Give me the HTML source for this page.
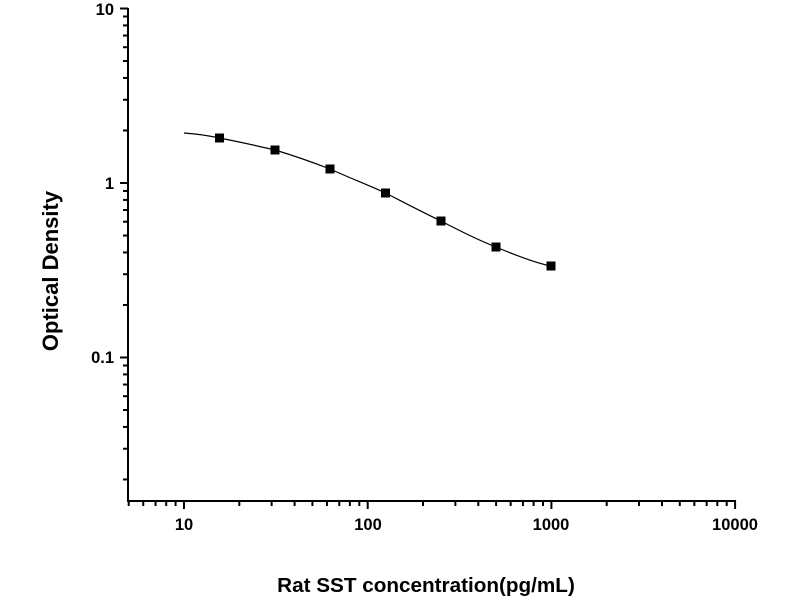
<!DOCTYPE html>
<html><head><meta charset="utf-8"><style>
html,body{margin:0;padding:0;background:#fff;width:800px;height:600px;overflow:hidden}
</style></head><body>
<svg id="s" width="800" height="600" xmlns="http://www.w3.org/2000/svg" font-family="Liberation Sans, Arial, sans-serif">
<rect width="800" height="600" fill="#fff"/>
<g id="ax" stroke="#000" stroke-width="2" fill="none">
<line x1="128" y1="8" x2="128" y2="502"/>
<line x1="127" y1="501" x2="736" y2="501"/>
</g>
<g font-size="16.5" font-weight="bold" text-anchor="end" fill="#000">
<text x="114" y="15">10</text>
<text x="114" y="189">1</text>
<text x="114" y="363">0.1</text>
</g>
<g font-size="16.5" font-weight="bold" text-anchor="middle" fill="#000">
<text x="184" y="530">10</text>
<text x="368" y="530">100</text>
<text x="551" y="530">1000</text>
<text x="735" y="530">10000</text>
</g>
<text x="426" y="592" font-size="20.7" font-weight="bold" text-anchor="middle">Rat SST concentration(pg/mL)</text>
<text transform="translate(58,271) rotate(-90)" font-size="22" font-weight="bold" text-anchor="middle">Optical Density</text>
<path d="M184,133 C200,134 210,136 219.5,138 C240,142 258,146 275,150 C295,156 312,162 330,169 C350,178 368,185 385.5,193 C405,203 422,212 441,221 C460,231 478,240 496,247 C515,255 535,263 551,266" stroke="#000" stroke-width="1.2" fill="none"/>
<g fill="#000">
<rect x="215" y="133.5" width="9" height="9"/>
<rect x="270.5" y="145.5" width="9" height="9"/>
<rect x="325.5" y="164.5" width="9" height="9"/>
<rect x="381" y="188.5" width="9" height="9"/>
<rect x="436.5" y="216.5" width="9" height="9"/>
<rect x="491.5" y="242.5" width="9" height="9"/>
<rect x="546.5" y="261.5" width="9" height="9"/>
</g>
</svg>
<script>
var g=document.getElementById('ax'),t='';
function L(a,b,c,d){t+='<line x1="'+a+'" y1="'+b+'" x2="'+c+'" y2="'+d+'"/>';}
for(var e=-2;e<=1;e++){for(var m=1;m<10;m++){var v=e+Math.log10(m);if(v>1.0001)continue;var y=183-174.5*v;if(y>501)continue;L(128,y,m==1?120:123,y);}}
for(var e=0;e<=4;e++){for(var m=1;m<10;m++){var v=e+Math.log10(m);if(v>4.0001)continue;var x=184+183.7*(v-1);if(x<128)continue;L(x,501,x,m==1?509:506);}}
g.insertAdjacentHTML('beforeend',t);
</script>
</body></html>
